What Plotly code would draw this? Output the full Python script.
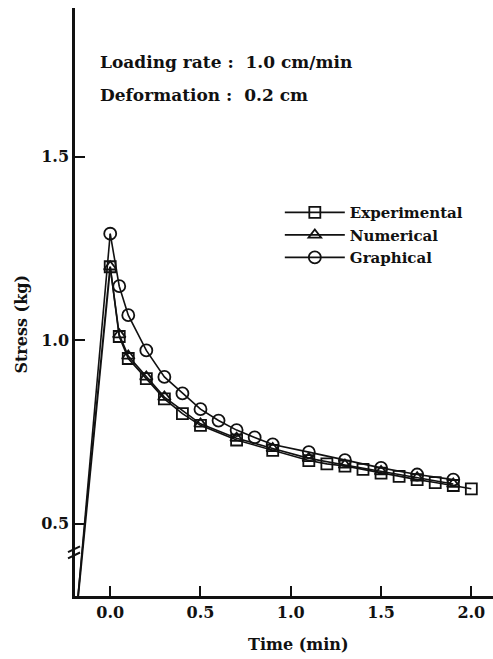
import plotly.graph_objects as go

# ---------------- data ----------------
exp_t = [0.0, 0.05, 0.1, 0.2, 0.3, 0.4, 0.5, 0.7, 0.9, 1.1, 1.2, 1.3, 1.4, 1.5, 1.6, 1.7, 1.8, 1.9, 2.0]
exp_v = [1.20, 1.01, 0.95, 0.895, 0.84, 0.80, 0.768, 0.728, 0.700, 0.672, 0.663, 0.657, 0.648, 0.638, 0.629, 0.620, 0.612, 0.604, 0.595]

num_t = [0.0, 0.05, 0.1, 0.2, 0.3, 0.5, 0.7, 0.9, 1.1, 1.3, 1.5, 1.7, 1.9]
num_v = [1.20, 1.015, 0.957, 0.90, 0.845, 0.772, 0.733, 0.705, 0.678, 0.660, 0.642, 0.625, 0.608]

gra_t = [0.0, 0.05, 0.1, 0.2, 0.3, 0.4, 0.5, 0.6, 0.7, 0.8, 0.9, 1.1, 1.3, 1.5, 1.7, 1.9]
gra_v = [1.29, 1.147, 1.068, 0.972, 0.90, 0.855, 0.812, 0.781, 0.755, 0.735, 0.716, 0.695, 0.673, 0.652, 0.634, 0.620]

# loading ramp (apparent values on the broken axis)
ramp_t = [-0.2, 0.0]
ramp_exp_v = [0.19, 1.20]
ramp_gra_v = [0.18, 1.29]

x_ticks = [0.0, 0.5, 1.0, 1.5, 2.0]
x_ticktext = ["0.0", "0.5", "1.0", "1.5", "2.0"]
y_ticks = [0.5, 1.0, 1.5]
y_ticktext = ["0.5", "1.0", "1.5"]

FONT = "DejaVu Serif"
BLACK = "#111111"

fig = go.Figure()

# ramps
fig.add_trace(go.Scatter(x=ramp_t, y=ramp_exp_v, mode="lines",
                         line=dict(color=BLACK, width=2), showlegend=False, hoverinfo="skip"))
fig.add_trace(go.Scatter(x=ramp_t, y=ramp_gra_v, mode="lines",
                         line=dict(color=BLACK, width=1.6), showlegend=False, hoverinfo="skip"))

fig.add_trace(go.Scatter(x=exp_t, y=exp_v, mode="lines+markers", name="Experimental",
                         line=dict(color=BLACK, width=1.6),
                         marker=dict(symbol="square-open", size=11, color=BLACK, line=dict(width=1.8))))
fig.add_trace(go.Scatter(x=num_t, y=num_v, mode="lines+markers", name="Numerical",
                         line=dict(color=BLACK, width=1.6),
                         marker=dict(symbol="triangle-up-open", size=11, color=BLACK, line=dict(width=1.8))))
fig.add_trace(go.Scatter(x=gra_t, y=gra_v, mode="lines+markers", name="Graphical",
                         line=dict(color=BLACK, width=1.6),
                         marker=dict(symbol="circle-open", size=12, color=BLACK, line=dict(width=1.8))))

fig.update_layout(
    width=493, height=659,
    margin=dict(l=75, r=0, t=8, b=63),
    paper_bgcolor="white", plot_bgcolor="white",
    font=dict(family=FONT, size=16, color=BLACK),
    legend=dict(x=0.49, y=0.68, xanchor="left", yanchor="top",
                bgcolor="rgba(0,0,0,0)", font=dict(family=FONT, size=15, color=BLACK, weight="bold"),
                itemwidth=60, tracegroupgap=0),
    xaxis=dict(range=[-0.195, 2.12], tickvals=x_ticks, ticktext=x_ticktext,
               showgrid=False, zeroline=False, showline=True, linecolor=BLACK, linewidth=2.5,
               ticks="inside", ticklen=10, tickwidth=2, tickcolor=BLACK,
               tickfont=dict(family=FONT, size=16, weight="bold")),
    yaxis=dict(range=[0.303, 1.905], tickvals=y_ticks, ticktext=y_ticktext,
               showgrid=False, zeroline=False, showline=True, linecolor=BLACK, linewidth=2.5,
               ticks="inside", ticklen=10, tickwidth=2, tickcolor=BLACK,
               tickfont=dict(family=FONT, size=16, weight="bold")),
    showlegend=True,
)

ann_font = dict(family=FONT, size=17, color=BLACK, weight="bold")
fig.add_annotation(text="Loading rate :\u00a0 1.0 cm/min", xref="paper", yref="paper",
                   x=0.055, y=0.908, xanchor="left", yanchor="middle", showarrow=False, font=ann_font)
fig.add_annotation(text="Deformation :\u00a0 0.2 cm", xref="paper", yref="paper",
                   x=0.055, y=0.852, xanchor="left", yanchor="middle", showarrow=False, font=ann_font)
fig.add_annotation(text="Stress (kg)", xref="paper", yref="y", x=-0.127, y=1.045, textangle=-90,
                   xanchor="center", yanchor="middle", showarrow=False,
                   font=dict(family=FONT, size=16, color=BLACK, weight="bold"))
fig.add_annotation(text="Time (min)", xref="x", yref="paper", x=1.04, y=-0.083,
                   xanchor="center", yanchor="middle", showarrow=False,
                   font=dict(family=FONT, size=16, color=BLACK, weight="bold"))

# axis break marks
for dy in (0.0, 0.0105):
    fig.add_shape(type="line", xref="paper", yref="paper",
                  x0=-0.0167, x1=0.012, y0=0.064 + dy, y1=0.074 + dy,
                  line=dict(color=BLACK, width=2))

fig.write_html("out.html")
